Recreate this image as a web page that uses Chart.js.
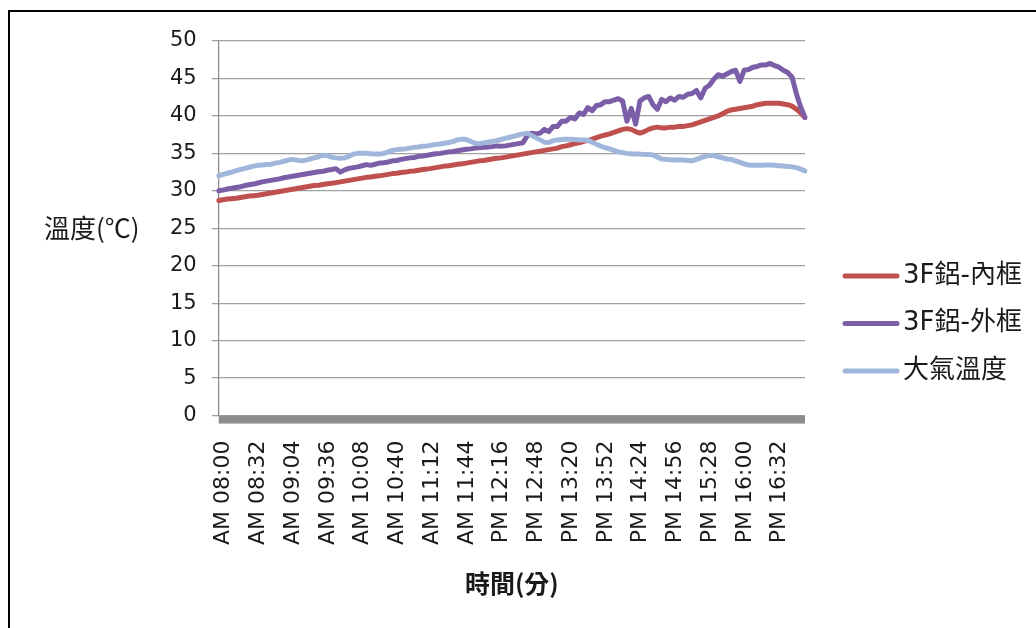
<!DOCTYPE html>
<html>
<head>
<meta charset="utf-8">
<script src="https://cdn.jsdelivr.net/npm/chart.js@4/dist/chart.umd.min.js"></script>
<style>
  html, body { margin:0; padding:0; background:#fff; overflow:hidden; }
  #wrap { position:relative; width:1036px; height:628px; }
  #frame { position:absolute; left:8px; top:10px; width:1100px; height:700px; border:2px solid #000; box-sizing:border-box; }
  #chart { position:absolute; left:0; top:0; }
</style>
</head>
<body>
<div id="wrap">
  <div id="frame"></div>
  <canvas id="chart" width="1036" height="628"></canvas>
</div>
<script>
'use strict';

// ===== data (one sample every 4 minutes, 08:00 -> 17:00) =====
const START_MIN = 8 * 60;
const STEP_MIN = 4;

const TICK_LABELS = [
  "AM 08:00","AM 08:32","AM 09:04","AM 09:36","AM 10:08","AM 10:40","AM 11:12","AM 11:44",
  "PM 12:16","PM 12:48","PM 13:20","PM 13:52","PM 14:24","PM 14:56","PM 15:28","PM 16:00","PM 16:32"
];

const SERIES_NAMES = ["3F鋁-內框", "3F鋁-外框", "大氣溫度"];

const INNER = [
  28.7,28.8,28.9,28.95,29.0,29.1,29.2,29.3,29.35,29.4,
  29.5,29.6,29.7,29.8,29.9,30.0,30.1,30.2,30.3,30.4,
  30.5,30.6,30.7,30.75,30.85,30.95,31.0,31.1,31.2,31.3,
  31.4,31.5,31.6,31.7,31.8,31.85,31.95,32.0,32.1,32.2,
  32.3,32.35,32.45,32.5,32.6,32.65,32.75,32.85,32.9,33.0,
  33.1,33.2,33.3,33.35,33.45,33.55,33.6,33.7,33.8,33.9,
  34.0,34.05,34.15,34.25,34.35,34.4,34.5,34.6,34.7,34.8,
  34.9,35.0,35.1,35.2,35.3,35.4,35.5,35.6,35.7,35.9,
  36.0,36.15,36.3,36.4,36.6,36.7,36.9,37.1,37.3,37.45,
  37.6,37.8,38.0,38.2,38.3,38.2,37.9,37.7,37.9,38.2,
  38.4,38.5,38.4,38.4,38.5,38.5,38.6,38.6,38.7,38.8,
  39.0,39.2,39.4,39.6,39.8,40.0,40.3,40.6,40.8,40.9,
  41.0,41.1,41.2,41.3,41.5,41.6,41.7,41.7,41.7,41.7,
  41.6,41.5,41.3,40.9,40.4,39.8
];

const OUTER = [
  30.0,30.1,30.25,30.35,30.45,30.55,30.7,30.8,30.9,31.05,
  31.2,31.3,31.4,31.5,31.6,31.75,31.85,31.95,32.05,32.15,
  32.25,32.35,32.45,32.55,32.6,32.75,32.85,32.95,32.5,32.8,
  33.0,33.1,33.2,33.35,33.5,33.4,33.55,33.7,33.75,33.85,
  34.0,34.05,34.2,34.3,34.4,34.45,34.6,34.65,34.75,34.85,
  34.95,35.0,35.1,35.2,35.25,35.35,35.45,35.55,35.6,35.7,
  35.75,35.8,35.85,35.9,36.0,35.95,36.0,36.1,36.2,36.3,
  36.4,37.3,37.7,37.6,37.7,38.2,37.9,38.6,38.6,39.3,
  39.3,39.8,39.6,40.4,40.2,41.1,40.7,41.4,41.5,41.9,
  41.9,42.1,42.3,42.0,39.3,41.0,38.9,42.0,42.4,42.6,
  41.5,40.9,42.2,41.9,42.4,42.1,42.6,42.5,42.9,43.0,
  43.4,42.4,43.7,44.1,44.9,45.5,45.3,45.6,45.9,46.1,
  44.6,46.1,46.2,46.5,46.6,46.8,46.8,47.0,46.7,46.5,
  46.1,45.8,45.2,43.0,41.2,39.8
];

const AIR = [
  32.0,32.2,32.35,32.5,32.7,32.85,33.0,33.15,33.3,33.4,
  33.45,33.5,33.55,33.7,33.8,33.95,34.1,34.2,34.1,34.0,
  34.1,34.25,34.4,34.55,34.75,34.7,34.5,34.4,34.35,34.4,
  34.6,34.9,35.0,35.0,35.0,34.95,34.9,34.9,35.0,35.2,
  35.4,35.5,35.55,35.6,35.7,35.8,35.85,35.95,36.0,36.1,
  36.2,36.25,36.35,36.45,36.6,36.8,36.9,36.85,36.6,36.35,
  36.3,36.4,36.5,36.6,36.7,36.85,37.0,37.15,37.3,37.45,
  37.6,37.7,37.4,37.1,36.8,36.5,36.45,36.7,36.8,36.85,
  36.9,36.9,36.85,36.8,36.8,36.75,36.5,36.2,35.95,35.75,
  35.6,35.4,35.2,35.1,35.0,34.95,34.9,34.9,34.85,34.85,
  34.8,34.5,34.25,34.2,34.15,34.1,34.1,34.1,34.05,34.0,
  34.2,34.4,34.6,34.7,34.7,34.55,34.4,34.25,34.2,34.0,
  33.8,33.6,33.45,33.4,33.4,33.4,33.45,33.45,33.4,33.35,
  33.3,33.25,33.2,33.1,32.9,32.65
];

// ===== colors =====
const COLORS = ["#c0504d", "#7b5ea7", "#a0b6da"];
const TEXT = "#1a1a1a";
const GRID = "#a0a0a0";

// category labels: HH:MM for each sample
const CATEGORIES = INNER.map((_, i) => {
  const m = START_MIN + i * STEP_MIN;
  return String(Math.floor(m / 60)).padStart(2, '0') + ':' + String(m % 60).padStart(2, '0');
});

// Excel-style extras: thick base bar, horizontal y title, legend to the right
const LEGEND_X = 843, LEGEND_Y = 276, LEGEND_GAP = 47.5, LEGEND_LINE = 56;

const excelBits = {
  id: 'excelBits',
  afterDraw(chart){
    const { ctx, chartArea } = chart;
    ctx.save();
    ctx.fillStyle = '#8c8c8c';
    ctx.fillRect(chartArea.left, chartArea.bottom, chartArea.right - chartArea.left, 8);

    ctx.fillStyle = TEXT;
    ctx.font = '26px "Noto Sans CJK TC", "DejaVu Sans", sans-serif';
    ctx.textAlign = 'left';
    ctx.textBaseline = 'middle';
    ctx.fillText('溫度(℃)', 44, (chartArea.top + chartArea.bottom) / 2);

    ctx.font = '26px "DejaVu Sans", "Noto Sans CJK TC", sans-serif';
    ctx.lineCap = 'round';
    chart.data.datasets.forEach((ds, i) => {
      const y = LEGEND_Y + i * LEGEND_GAP;
      ctx.strokeStyle = ds.borderColor;
      ctx.lineWidth = 5;
      ctx.beginPath();
      ctx.moveTo(LEGEND_X + 2, y);
      ctx.lineTo(LEGEND_X + LEGEND_LINE - 2, y);
      ctx.stroke();
      ctx.fillStyle = TEXT;
      ctx.fillText(ds.label, LEGEND_X + LEGEND_LINE + 4, y);
    });
    ctx.restore();
  }
};

const datasets = [INNER, OUTER, AIR].map((vals, i) => ({
  label: SERIES_NAMES[i],
  data: vals,
  borderColor: COLORS[i],
  backgroundColor: COLORS[i],
  borderWidth: 5,
  pointRadius: 0,
  tension: 0,
  borderJoinStyle: 'round',
  borderCapStyle: 'round',
  order: 2 - i   // last series drawn on top, like Excel
}));

new Chart(document.getElementById('chart'), {
  type: 'line',
  data: { labels: CATEGORIES, datasets },
  plugins: [excelBits],
  options: {
    responsive: false,
    animation: false,
    layout: { padding: { left: 155, top: 41, right: 231, bottom: 30 } },
    plugins: {
      tooltip: { enabled: false },
      legend: { display: false }
    },
    scales: {
      x: {
        offset: false,
        grid: { display: false, drawTicks: true, tickLength: 8 },
        border: { display: false },
        ticks: {
          autoSkip: false,
          minRotation: 90,
          maxRotation: 90,
          padding: 17,
          labelOffset: 5,
          color: TEXT,
          font: { family: '"DejaVu Sans", sans-serif', size: 22 },
          callback: (v, i) => (i % 8 === 0 ? TICK_LABELS[i / 8] : '')
        },
        title: {
          display: true,
          text: '時間(分)',
          color: TEXT,
          padding: { top: 6, bottom: 0 },
          font: { family: '"Noto Sans CJK TC", sans-serif', size: 25, weight: 'bold' }
        }
      },
      y: {
        min: 0,
        max: 50,
        grid: { color: GRID, lineWidth: 1.3, tickLength: 7 },
        border: { display: true, color: '#8c8c8c', width: 1.3 },
        ticks: {
          stepSize: 5,
          padding: 15,
          color: TEXT,
          font: { family: '"DejaVu Sans", sans-serif', size: 21 }
        }
      }
    }
  }
});
</script>
</body>
</html>
